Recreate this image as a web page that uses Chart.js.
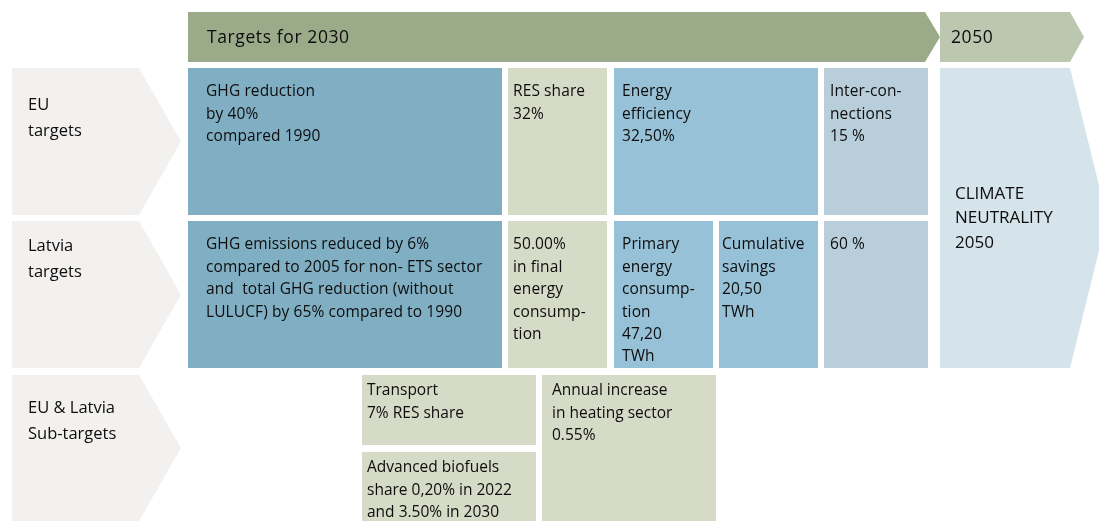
<!DOCTYPE html>
<html>
<head>
<meta charset="utf-8">
<script src="https://cdn.jsdelivr.net/npm/chart.js@4/dist/chart.umd.min.js"></script>
<style>
  html, body { margin: 0; padding: 0; background: #fff; }
  #wrap { width: 1099px; height: 521px; position: relative; }
</style>
</head>
<body>
<div id="wrap"><canvas id="chart"></canvas></div>
<script>
// Texts of the diagram
const periods = ['Targets for 2030', '2050']
const rowLabels = [['EU', 'targets'], ['Latvia', 'targets'], ['EU & Latvia', 'Sub-targets']]
const euTargets = [
  ['GHG reduction', 'by 40%', 'compared 1990'],
  ['RES share', '32%'],
  ['Energy', 'efficiency', '32,50%'],
  ['Inter-con-', 'nections', '15 %']
]
const latviaTargets = [
  ['GHG emissions reduced by 6%', 'compared to 2005 for non- ETS sector', 'and  total GHG reduction (without', 'LULUCF) by 65% compared to 1990'],
  ['50.00%', 'in final', 'energy', 'consump-', 'tion'],
  ['Primary', 'energy', 'consump-', 'tion', '47,20', 'TWh'],
  ['Cumulative', 'savings', '20,50', 'TWh'],
  ['60 %']
]
const subTargets = [
  ['Transport', '7% RES share'],
  ['Advanced biofuels', 'share 0,20% in 2022', 'and 3.50% in 2030'],
  ['Annual increase', 'in heating sector', '0.55%']
]
const longTerm = ['CLIMATE', 'NEUTRALITY', '2050']

// Layout in axis units (x: 0..1099, y: 0..521 top-down)
const rowBands = [[68, 215], [221, 368], [375, 521]]
const rowLabelOffset = [37, 25, 33]
const headerBand = [12, 62]
const euCols = [[188, 502], [508, 607], [614, 818], [824, 928]]
const lvCols = [[188, 502], [508, 607], [614, 713], [719, 818], [824, 928]]
const subBoxes = [[362, 536, 375, 445], [362, 536, 452, 521], [542, 716, 375, 521]]

const colors = {
  label: '#f2f1ef',
  head: '#9bab8a',
  head2050: '#bcc7b0',
  ghg: '#80afc4',
  res: '#d6dbc7',
  eff: '#96c1d7',
  inter: '#b8cfdb',
  climate: '#d5e3ea',
  text: '#0d0d0d'
}
const euFill = [colors.ghg, colors.res, colors.eff, colors.inter]
const lvFill = [colors.ghg, colors.res, colors.eff, colors.eff, colors.inter]
const euPad = [18, 5, 8, 6]
const lvPad = [18, 5, 8, 3, 6]

const FONT = '"Open Sans", Lato, sans-serif'

const diagramPlugin = {
  id: 'diagram',
  afterDraw(chart) {
    const ctx = chart.ctx
    const X = v => chart.scales.x.getPixelForValue(v)
    const Y = v => chart.scales.y.getPixelForValue(v)

    const poly = (pts, fill) => {
      ctx.beginPath()
      pts.forEach(([x, y], i) => i ? ctx.lineTo(X(x), Y(y)) : ctx.moveTo(X(x), Y(y)))
      ctx.closePath()
      ctx.fillStyle = fill
      ctx.fill()
    }
    const rect = (x0, x1, y0, y1, fill) => poly([[x0, y0], [x1, y0], [x1, y1], [x0, y1]], fill)
    const lines = (arr, x, y, size, lh, spacing) => {
      ctx.fillStyle = colors.text
      ctx.font = size + 'px ' + FONT
      ctx.letterSpacing = (spacing || 0) + 'px'
      ctx.textBaseline = 'middle'
      ctx.textAlign = 'left'
      arr.forEach((t, i) => ctx.fillText(t, X(x), Y(y + i * lh)))
    }

    ctx.save()
    // header arrows
    const [h0, h1] = headerBand
    const hm = (h0 + h1) / 2
    poly([[188, h0], [925, h0], [940, hm], [925, h1], [188, h1]], colors.head)
    poly([[940, h0], [1070, h0], [1084, hm], [1070, h1], [940, h1]], colors.head2050)
    lines([periods[0]], 207, hm + 1, 17.5, 0, 0.6)
    lines([periods[1]], 951, hm + 1, 17.5, 0, 0.6)

    // row label chevrons
    rowBands.forEach(([y0, y1], i) => {
      poly([[12, y0], [139, y0], [181, (y0 + y1) / 2], [139, y1], [12, y1]], colors.label)
      lines(rowLabels[i], 28, y0 + rowLabelOffset[i], 16.5, 26, 0)
    })

    // climate neutrality panel
    poly([[940, 68], [1070, 68], [1107, 218], [1070, 368], [940, 368]], colors.climate)
    lines(longTerm, 955, 194, 17, 24.5, 0)

    // EU targets
    const [e0, e1] = rowBands[0]
    euCols.forEach(([x0, x1], i) => {
      rect(x0, x1, e0, e1, euFill[i])
      lines(euTargets[i], x0 + euPad[i], e0 + 24, 15.5, 22.3, 0.1)
    })

    // Latvia targets
    const [l0, l1] = rowBands[1]
    lvCols.forEach(([x0, x1], i) => {
      rect(x0, x1, l0, l1, lvFill[i])
      lines(latviaTargets[i], x0 + lvPad[i], l0 + 24, 15.5, 22.4, 0.1)
    })

    // sub-targets
    subBoxes.forEach(([x0, x1, y0, y1], i) => {
      rect(x0, x1, y0, y1, colors.res)
      lines(subTargets[i], x0 + (i === 2 ? 10 : 5), y0 + 16, 15.5, 22.5, 0)
    })
    ctx.restore()
  }
}

new Chart(document.getElementById('chart'), {
  type: 'scatter',
  data: { datasets: [{ data: [] }] },
  options: {
    responsive: true,
    maintainAspectRatio: false,
    animation: false,
    layout: { padding: 0 },
    plugins: { legend: { display: false }, tooltip: { enabled: false } },
    scales: {
      x: { type: 'linear', min: 0, max: 1099, display: false },
      y: { type: 'linear', min: 0, max: 521, reverse: true, display: false }
    }
  },
  plugins: [diagramPlugin]
})
</script>
</body>
</html>
